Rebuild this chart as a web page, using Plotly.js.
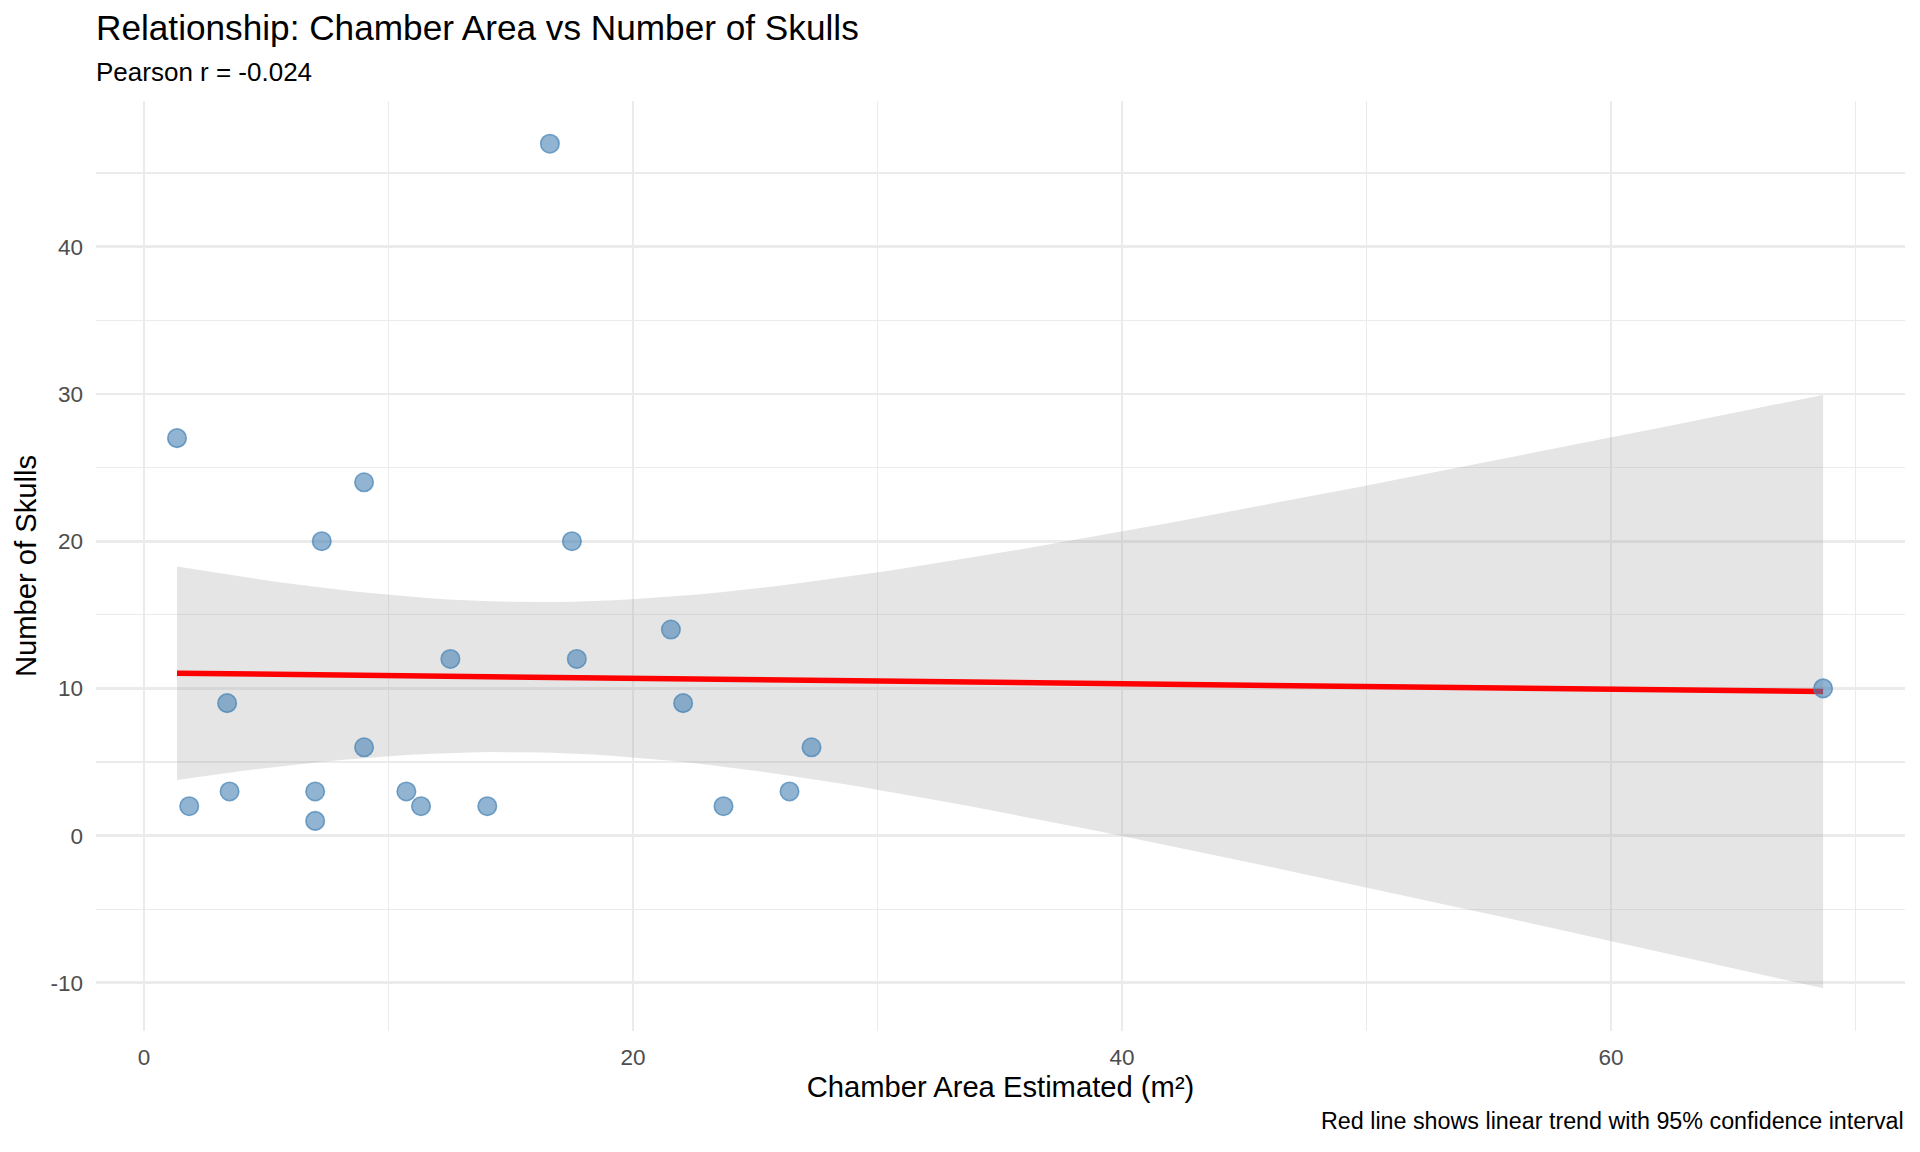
<!DOCTYPE html>
<html>
<head>
<meta charset="utf-8">
<script src="https://cdn.plot.ly/plotly-3.0.1.min.js"></script>
<style>
  html, body { margin: 0; padding: 0; background: #ffffff; }
  #chart { width: 1920px; height: 1152px; }
</style>
</head>
<body>
<div id="chart"></div>
<script>
// ---- Data ----
const chamberArea = [1.35, 1.85, 3.4, 3.5, 7.0, 7.0, 7.27, 9.0, 9.0, 10.73, 11.33,
                     12.53, 14.04, 16.6, 17.5, 17.7, 21.55, 22.05, 23.7, 26.4, 27.3, 68.67];
const numSkulls   = [27, 2, 9, 3, 3, 1, 20, 24, 6, 3, 2,
                     12, 2, 47, 20, 12, 14, 9, 2, 3, 6, 10];
const xTickVals = [0, 20, 40, 60];
const yTickVals = [-10, 0, 10, 20, 30, 40];
const titleText = "Relationship: Chamber Area vs Number of Skulls";
const subtitleText = "Pearson r = -0.024";
const captionText = "Red line shows linear trend with 95% confidence interval";

// ---- Linear model with 95% CI (as geom_smooth(method = "lm")) ----
const n = chamberArea.length;
const mx = chamberArea.reduce((a, b) => a + b, 0) / n;
const my = numSkulls.reduce((a, b) => a + b, 0) / n;
let sxx = 0, sxy = 0;
for (let i = 0; i < n; i++) {
  sxx += (chamberArea[i] - mx) ** 2;
  sxy += (chamberArea[i] - mx) * (numSkulls[i] - my);
}
const slope = sxy / sxx;
const intercept = my - slope * mx;
let sse = 0;
for (let i = 0; i < n; i++) sse += (numSkulls[i] - (intercept + slope * chamberArea[i])) ** 2;
const sigma = Math.sqrt(sse / (n - 2));
const tCrit = 2.085963; // qt(0.975, df = 20)
const xmin = Math.min(...chamberArea), xmax = Math.max(...chamberArea);
const gridX = [], fitY = [], upY = [], loY = [];
for (let k = 0; k < 80; k++) {
  const x = xmin + (xmax - xmin) * k / 79;
  const f = intercept + slope * x;
  const se = sigma * Math.sqrt(1 / n + (x - mx) ** 2 / sxx);
  gridX.push(x); fitY.push(f); upY.push(f + tCrit * se); loY.push(f - tCrit * se);
}

const ribbon = {
  type: "scatter", mode: "lines",
  x: gridX.concat(gridX.slice().reverse()),
  y: upY.concat(loY.slice().reverse()),
  fill: "toself", fillcolor: "rgba(153,153,153,0.25)",
  line: { width: 0 }, hoverinfo: "skip", showlegend: false
};
const fitLine = {
  type: "scatter", mode: "lines", x: gridX, y: fitY,
  line: { color: "#FF0000", width: 5.5 }, showlegend: false
};
const points = {
  type: "scatter", mode: "markers", x: chamberArea, y: numSkulls,
  marker: { size: 18.5, color: "rgba(70,130,180,0.6)",
            line: { color: "rgba(70,130,180,0.7)", width: 1.6 } },
  showlegend: false
};

const L = 96, R = 1905, T = 101, B = 1031.5;
const W = R - L, H = B - T;
const py = p => (B - p) / H;

const layout = {
  width: 1920, height: 1152,
  paper_bgcolor: "#ffffff", plot_bgcolor: "#ffffff",
  margin: { l: L, r: 1920 - R, t: T, b: 1152 - B, pad: 0 },
  font: { family: "Liberation Sans, Arial, Helvetica, sans-serif", color: "#000000" },
  title: {
    text: titleText, x: L / 1920, xanchor: "left", xref: "container",
    y: 1 - 27.5 / 1152, yanchor: "middle", yref: "container",
    font: { size: 35.2, color: "#000000" }
  },
  xaxis: {
    range: [-1.963, 72.02], tickvals: xTickVals, ticktext: xTickVals.map(String),
    showgrid: true, gridcolor: "#EBEBEB", gridwidth: 2.8,
    minor: { dtick: 10, tick0: 0, showgrid: true, gridcolor: "#EBEBEB", gridwidth: 1.4 },
    zeroline: false, showline: false, ticks: "",
    tickfont: { size: 22.5, color: "#4D4D4D" }, ticklabelstandoff: 10,
    title: { text: "Chamber Area Estimated (m²)", font: { size: 29.2, color: "#000000" }, standoff: 8 },
    automargin: false
  },
  yaxis: {
    range: [-13.27, 49.9], tickvals: yTickVals, ticktext: yTickVals.map(String),
    showgrid: true, gridcolor: "#EBEBEB", gridwidth: 2.8,
    minor: { dtick: 5, tick0: 0, showgrid: true, gridcolor: "#EBEBEB", gridwidth: 1.4 },
    zeroline: false, showline: false, ticks: "",
    tickfont: { size: 22.5, color: "#4D4D4D" }, ticklabelstandoff: 12,
    title: { text: "Number of Skulls", font: { size: 29.2, color: "#000000" }, standoff: 5 },
    automargin: false
  },
  annotations: [
    { text: subtitleText, xref: "paper", yref: "paper", x: 0, xanchor: "left", xshift: -2,
      y: py(72.2), yanchor: "middle", showarrow: false,
      font: { size: 26, color: "#000000" } },
    { text: captionText, xref: "paper", yref: "paper", x: 1, xanchor: "right", xshift: 1,
      y: py(1121.5), yanchor: "middle", showarrow: false,
      font: { size: 23.3, color: "#000000" } }
  ],
  showlegend: false, hovermode: "closest"
};

Plotly.newPlot("chart", [ribbon, fitLine, points], layout, { displayModeBar: false, staticPlot: true });
</script>
</body>
</html>
